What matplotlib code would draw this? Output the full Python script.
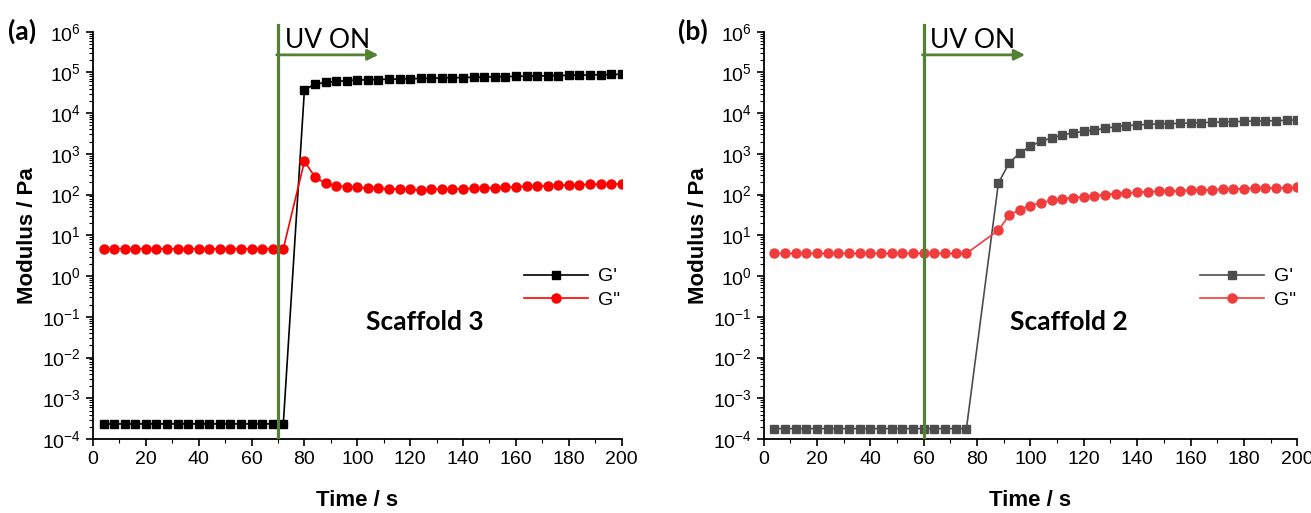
import numpy as np
import matplotlib
matplotlib.use("Agg")
import matplotlib.pyplot as plt
from matplotlib.ticker import LogLocator, MultipleLocator

plt.rcParams['font.family'] = ['Liberation Sans', 'DejaVu Sans']
plt.rcParams['axes.unicode_minus'] = False

# ---- data ----
# Scaffold 3 (panel a)
t_a_pre = np.arange(4, 73, 4)            # 4..72 s, before gelation
t_a_post = np.arange(80, 201, 4)         # 80..200 s
Gp_a_pre = [2.35e-4] * len(t_a_pre)
Gpp_a_pre = [4.7] * len(t_a_pre)
Gp_a_post = [3.8e4, 5.1e4, 5.7e4, 6.0e4, 6.3e4, 6.5e4, 6.6e4, 6.7e4, 6.8e4, 6.9e4,
             7.0e4, 7.1e4, 7.2e4, 7.3e4, 7.4e4, 7.5e4, 7.6e4, 7.7e4, 7.8e4, 7.9e4,
             8.0e4, 8.1e4, 8.2e4, 8.3e4, 8.4e4, 8.5e4, 8.6e4, 8.7e4, 8.8e4, 8.9e4, 9.0e4]
Gpp_a_post = [660, 270, 190, 165, 155, 150, 145, 142, 139, 137,
              135, 128, 134, 136, 138, 140, 142, 145, 148, 152,
              156, 160, 163, 166, 170, 173, 176, 178, 180, 182, 184]
uv_a = 70

# Scaffold 2 (panel b)
t_b_pre = np.arange(4, 77, 4)            # 4..76 s
t_b_post = np.arange(88, 201, 4)         # 88..200 s
Gp_b_pre = [1.8e-4] * len(t_b_pre)
Gpp_b_pre = [3.6] * len(t_b_pre)
Gp_b_post = [193, 597, 1050, 1550, 2050, 2460, 2920, 3270, 3580, 3860,
             4240, 4660, 4930, 5130, 5330, 5430, 5530, 5630, 5740, 5850,
             5960, 6070, 6180, 6300, 6420, 6420, 6550, 6670, 6800]
Gpp_b_post = [13.4, 31, 43, 54, 63, 72, 78, 84, 89, 94,
              100, 106, 110, 114, 118, 120, 123, 125, 127, 130,
              132, 135, 137, 140, 143, 145, 145, 148, 151]
uv_b = 60

x_ticks = np.arange(0, 201, 20)
green = '#548235'


def panel(ax, t, gp, gpp, uv, c1, c2, ms_sq, title, title_x, tag):
    ax.plot(t, gp, '-s', color=c1, lw=1.2, ms=ms_sq, label="G'", zorder=3)
    ax.plot(t, gpp, '-o', color=c2, lw=1.2, ms=6.5, label='G"', zorder=3)
    ax.set_yscale('log')
    ax.set_ylim(1e-4, 1e6)
    ax.set_xlim(0, 200)
    ax.set_xticks(x_ticks)
    ax.xaxis.set_minor_locator(MultipleLocator(10))
    ax.yaxis.set_major_locator(LogLocator(base=10, numticks=20))
    ax.yaxis.set_minor_locator(LogLocator(base=10, subs=np.arange(2, 10), numticks=20))
    for s in ('top', 'right'):
        ax.spines[s].set_visible(False)
    for s in ('left', 'bottom'):
        ax.spines[s].set_linewidth(1.3)
    ax.tick_params(which='major', direction='out', length=5, width=1.2, labelsize=14)
    ax.tick_params(which='minor', direction='out', length=3, width=0.8)
    ax.set_xlabel('Time / s', fontsize=16, fontweight='bold', labelpad=16)
    ax.set_ylabel('Modulus / Pa', fontsize=16, fontweight='bold', labelpad=3)

    # UV marker
    ax.plot([uv, uv], [1.1e-4, 1.45e6], color=green, lw=2.3, clip_on=False, zorder=4)
    ax.annotate('', xy=(uv + 38, 2.7e5), xytext=(uv - 0.5, 2.7e5),
                arrowprops=dict(arrowstyle='-|>', color=green, lw=2.0,
                                mutation_scale=16, shrinkA=0, shrinkB=0))
    ax.text(uv + 2.5, 3.0e5, 'UV ON', fontsize=19, family=['Lato', 'DejaVu Sans'],
            va='bottom', ha='left')

    ax.text(title_x, 0.287, title, transform=ax.transAxes, fontsize=19,
            fontweight='bold', family=['Lato', 'DejaVu Sans'], ha='center', va='center')
    ax.legend(loc='center right', bbox_to_anchor=(1.03, 0.37), frameon=False,
              fontsize=14, handlelength=3.3, labelspacing=0.3, handletextpad=0.5)
    ax.text(-0.16, 1.0, tag, transform=ax.transAxes, fontsize=19,
            fontweight='bold', family=['Lato', 'DejaVu Sans'], ha='left', va='center')


fig = plt.figure(figsize=(13.11, 5.13), dpi=100)
ax1 = fig.add_axes([0.0709, 0.1442, 0.4033, 0.794])
ax2 = fig.add_axes([0.5825, 0.1442, 0.4070, 0.794])

panel(ax1, np.r_[t_a_pre, t_a_post], Gp_a_pre + Gp_a_post, Gpp_a_pre + Gpp_a_post,
      uv_a, 'black', '#ff0000', 6, 'Scaffold 3', 0.628, '(a)')
panel(ax2, np.r_[t_b_pre, t_b_post], Gp_b_pre + Gp_b_post, Gpp_b_pre + Gpp_b_post,
      uv_b, '#4d4d4d', '#f03c3c', 5.5, 'Scaffold 2', 0.572, '(b)')

fig.savefig('out.png', dpi=100)
